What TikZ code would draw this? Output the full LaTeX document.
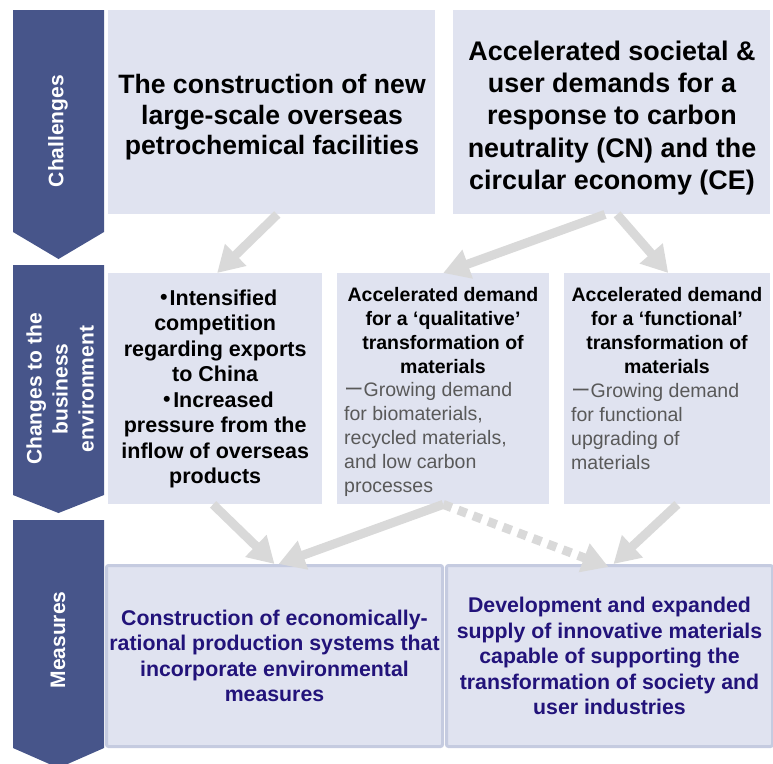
\documentclass[tikz,border=0pt]{standalone}
\usepackage{fontspec}
\setmainfont{Liberation Sans}
\newfontfamily\cjk{Noto Sans CJK JP}
\usetikzlibrary{arrows.meta,calc}
\definecolor{chev}{HTML}{47558A}
\definecolor{boxfill}{HTML}{E0E3F0}
\definecolor{boxline}{HTML}{C5CBE0}
\definecolor{navy}{HTML}{22137A}
\definecolor{graytext}{HTML}{595959}
\definecolor{arrowgray}{HTML}{D9D9D9}
\newcommand{\jdot}{{\cjk ・}\kern-5pt}
\tikzset{
  chevshape/.style={fill=chev, draw=none},
  chevtext/.style={text=white, font=\fontsize{21}{26}\selectfont\bfseries, align=center, rotate=90, inner sep=0pt},
  box/.style={fill=boxfill, draw=none, anchor=north west, inner sep=0pt, align=center},
  measbox/.style={box, draw=boxline, line width=3pt, rounded corners=2pt},
  bigtext/.style={text=black, align=center, inner sep=0pt},
  midtext/.style={font=\fontsize{21.5}{25.5}\selectfont\bfseries, text=black},
  headtext/.style={font=\fontsize{19.5}{24}\selectfont\bfseries, text=black, align=center, inner sep=0pt},
  bodytext/.style={font=\fontsize{19.5}{24}\selectfont, text=graytext, align=left, inner sep=0pt, anchor=west},
  meastext/.style={font=\fontsize{21.3}{25.5}\selectfont\bfseries, text=navy},
  bigarrow/.style={draw=arrowgray, line width=9pt, -{Triangle[length=26pt,width=29pt]}},
  dotarrow/.style={bigarrow, dash pattern=on 9pt off 7pt}
}
\begin{document}
\begin{tikzpicture}[x=1pt,y=-1pt]
\useasboundingbox (0,0) rectangle (773,763);
% chevrons
\path[chevshape] (13,10) -- (104,10) -- (104,232) -- (58.5,259) -- (13,232) -- cycle;
\path[chevshape] (13,265) -- (104,265) -- (104,495) -- (58.5,513) -- (13,495) -- cycle;
\path[chevshape] (13,520) -- (104,520) -- (104,748) -- (58.5,768) -- (13,748) -- cycle;
\node[chevtext] (lab1) at (58,131) {Challenges};
\node[chevtext] (lab2) at (60,389) {Changes to the\\business\\environment};
\node[chevtext] (lab3) at (58,640) {Measures};
% top boxes
\node[box, minimum width=327pt, minimum height=204pt] (top1) at (108,10) {};
\node[box, minimum width=317pt, minimum height=204pt] (top2) at (453,10) {};
\node[bigtext, font=\fontsize{26.6}{30.5}\selectfont\bfseries] (t1text) at (272,117.5)
  {The construction of new\\large-scale overseas\\petrochemical facilities};
\node[bigtext, font=\fontsize{26.9}{32.3}\selectfont\bfseries] (t2text) at (612,118)
  {Accelerated societal \&\\user demands for a\\response to carbon\\neutrality (CN) and the\\circular economy (CE)};
% middle boxes
\node[box, midtext, minimum width=214pt, minimum height=231pt] (midA) at (108,273)
  {\jdot Intensified\\competition\\regarding exports\\to China\\\jdot Increased\\pressure from the\\inflow of overseas\\products};
\node[box, minimum width=212pt, minimum height=231pt] (midB) at (337,273) {};
\node[box, minimum width=206pt, minimum height=231pt] (midC) at (564,273) {};
\node[headtext] (headB) at (443,331) {Accelerated demand\\for a ‘qualitative’\\transformation of\\materials};
\node[bodytext] (bodyB) at (344,439) {{\cjk ー}Growing demand\\for biomaterials,\\recycled materials,\\and low carbon\\processes};
\node[headtext] (headC) at (667,331) {Accelerated demand\\for a ‘functional’\\transformation of\\materials};
\node[bodytext] (bodyC) at (571,427) {{\cjk ー}Growing demand\\for functional\\upgrading of\\materials};
% measures boxes
\node[measbox, meastext, minimum width=336pt, minimum height=181pt] (botL) at (105,564)
  {Construction of economically-\\rational production systems that\\incorporate environmental\\measures};
\node[measbox, meastext, minimum width=326pt, minimum height=181pt] (botR) at (445,564)
  {Development and expanded\\supply of innovative materials\\capable of supporting the\\transformation of society and\\user industries};
% arrows
\draw[bigarrow] ($(top1.south west)!0.517!(top1.south east)$) -- ($(midA.north west)!0.509!(midA.north east)$);
\draw[bigarrow] ($(top2.south west)!0.479!(top2.south east)$) -- ($(midB.north west)!0.5!(midB.north east)$);
\draw[bigarrow] ($(top2.south west)!0.517!(top2.south east)$) -- ($(midC.north west)!0.505!(midC.north east)$);
\draw[bigarrow] ($(midA.south west)!0.49!(midA.south east)$) -- ($(botL.north west)!0.5!(botL.north east)$);
\draw[bigarrow] ($(midB.south west)!0.5!(midB.south east)$) -- ($(botL.north west)!0.512!(botL.north east)$);
\draw[dotarrow] ($(midB.south west)!0.5!(midB.south east)$) -- ($(botR.north west)!0.497!(botR.north east)+(0,3)$);
\draw[bigarrow] ($(midC.south west)!0.549!(midC.south east)$) -- ($(botR.north west)!0.512!(botR.north east)$);
\end{tikzpicture}
\end{document}
